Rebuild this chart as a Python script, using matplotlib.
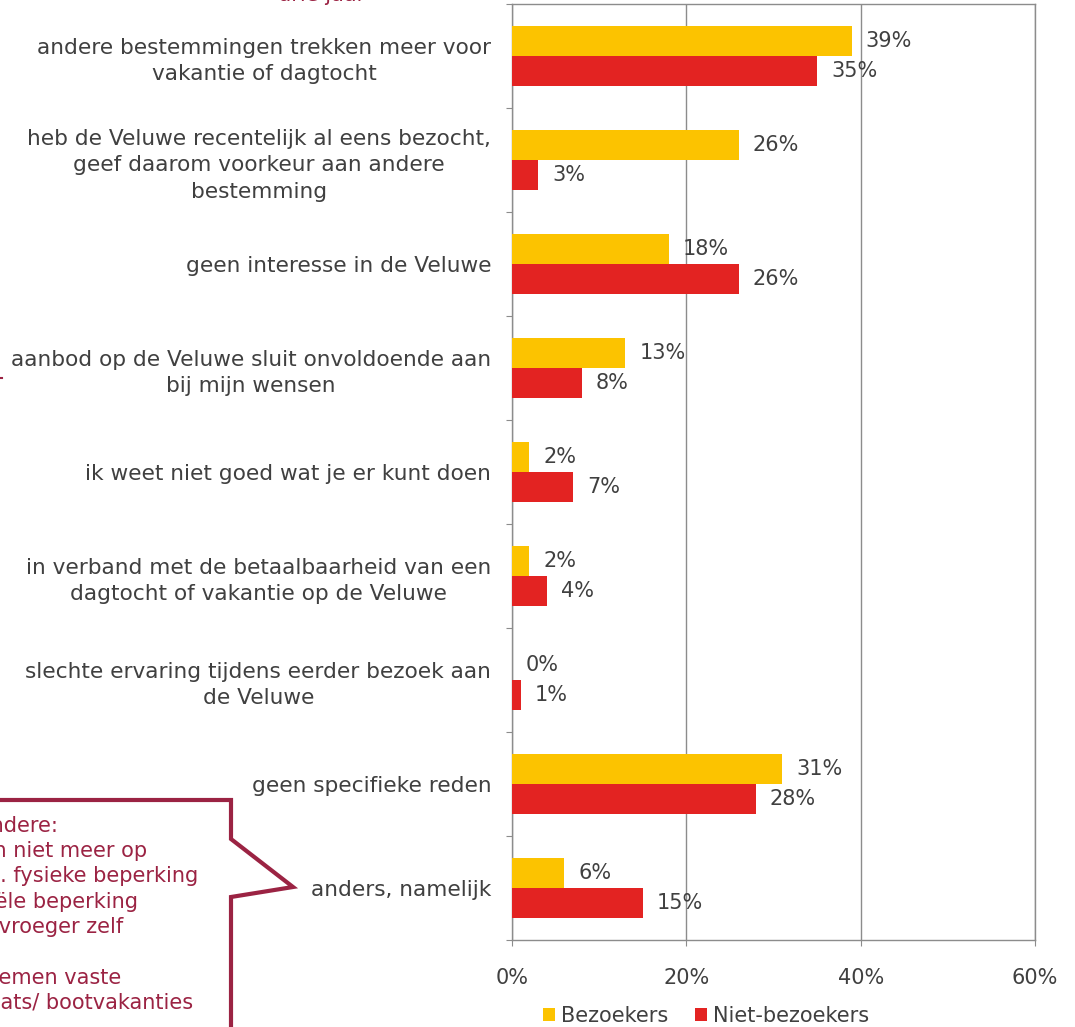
import numpy as np
import matplotlib
matplotlib.use('Agg')
import matplotlib.pyplot as plt
from matplotlib.lines import Line2D

# data
categories = ['andere bestemmingen trekken meer voor\nvakantie of dagtocht',
              'heb de Veluwe recentelijk al eens bezocht,\ngeef daarom voorkeur aan andere\nbestemming',
              'geen interesse in de Veluwe',
              'aanbod op de Veluwe sluit onvoldoende aan\nbij mijn wensen',
              'ik weet niet goed wat je er kunt doen',
              'in verband met de betaalbaarheid van een\ndagtocht of vakantie op de Veluwe',
              'slechte ervaring tijdens eerder bezoek aan\nde Veluwe',
              'geen specifieke reden',
              'anders, namelijk']
bezoekers = [39, 26, 18, 13, 2, 2, 0, 31, 6]
niet_bezoekers = [35, 3, 26, 8, 7, 4, 1, 28, 15]
xticks = [0, 20, 40, 60]
xtick_labels = ['0%', '20%', '40%', '60%']
series_names = ['Bezoekers', 'Niet-bezoekers']

# callout tekst (links afgesneden in origineel)
callout_lines = ['Onder andere:', '- kan niet meer op', 'i.v.m. fysieke beperking',
                 'financiële beperking', '- deed dat vroeger zelf', '',
                 '- ondernemen vaste', 'staanplaats/ bootvakanties']

W, H = 1075, 1027
grey_txt = '#404040'
grid_col = '#8c8c8c'
yellow = '#FCC300'
red = '#E32322'
maroon = '#9B2343'
fs = 15

plt.rcParams['font.family'] = ['DejaVu Sans']
fig = plt.figure(figsize=(W/100, H/100), dpi=100)
ax = fig.add_axes([512/W, 1-940/H, (1035-512)/W, (940-4)/H])

n = len(categories)
y = np.arange(n)
h = 0.29
ax.barh(y-h/2, bezoekers, height=h, color=yellow, label=series_names[0], zorder=3)
ax.barh(y+h/2, niet_bezoekers, height=h, color=red, label=series_names[1], zorder=3)

# waarden labels
for i in range(n):
    ax.annotate(f'{bezoekers[i]}%', (bezoekers[i], y[i]-h/2), xytext=(10, 0),
                textcoords='offset points', va='center', ha='left', fontsize=fs, color=grey_txt, zorder=4)
    ax.annotate(f'{niet_bezoekers[i]}%', (niet_bezoekers[i], y[i]+h/2), xytext=(10, 0),
                textcoords='offset points', va='center', ha='left', fontsize=fs, color=grey_txt, zorder=4)

ax.set_xlim(0, 60)
ax.set_ylim(n-0.5, -0.5)
ax.set_xticks(xticks)
ax.set_xticklabels(xtick_labels, fontsize=fs, color=grey_txt)
ax.tick_params(axis='x', length=4.5, color=grid_col, pad=16)

# ticks tussen categorieen, labels in het midden
ax.set_yticks(np.arange(n+1)-0.5)
ax.set_yticklabels([])
ax.tick_params(axis='y', which='major', length=4.5, color=grid_col)
ax.set_yticks(y, minor=True)
ax.set_yticklabels(categories, minor=True, fontsize=15.6, color=grey_txt)
ax.tick_params(axis='y', which='minor', length=0, pad=15)
for t in ax.get_yticklabels(minor=True):
    t.set_multialignment('center')
    t.set_linespacing(1.4)

ax.grid(axis='x', color=grid_col, linewidth=1, zorder=0)
for s in ax.spines.values():
    s.set_color(grid_col)
    s.set_linewidth(1)

# legenda
fig.legend(loc='center', bbox_to_anchor=(706/W, 1-1016/H), ncol=2, frameon=False,
           fontsize=fs, labelcolor=grey_txt, handlelength=0.55, handleheight=0.55,
           handletextpad=0.3, columnspacing=1.3, borderpad=0)

# callout vorm
px = [-20, 231, 231, 293, 231, 231]
py = [800, 800, 839, 887, 897, 1040]
fig.add_artist(Line2D([x/W for x in px], [1-v/H for v in py], color=maroon, lw=3,
                      solid_joinstyle='miter', transform=fig.transFigure))
right_ends = [58, 147, 198, 138, 123, 0, 121, 193]
baselines = [832, 857, 882, 908, 933, 958, 984, 1009]
for txt, xr, yb in zip(callout_lines, right_ends, baselines):
    if txt:
        fig.text(xr/W, 1-yb/H, txt, ha='right', va='baseline', fontsize=fs, color=maroon)

# afgesneden titel en lijnstukje
fig.text(322/W, 1-1/H, 'drie jaar', ha='center', va='baseline', fontsize=fs, color=maroon)
fig.add_artist(Line2D([0, 2/W], [1-378/H, 1-378/H], color=maroon, lw=1.5, transform=fig.transFigure))

fig.savefig('out.png', dpi=100)
